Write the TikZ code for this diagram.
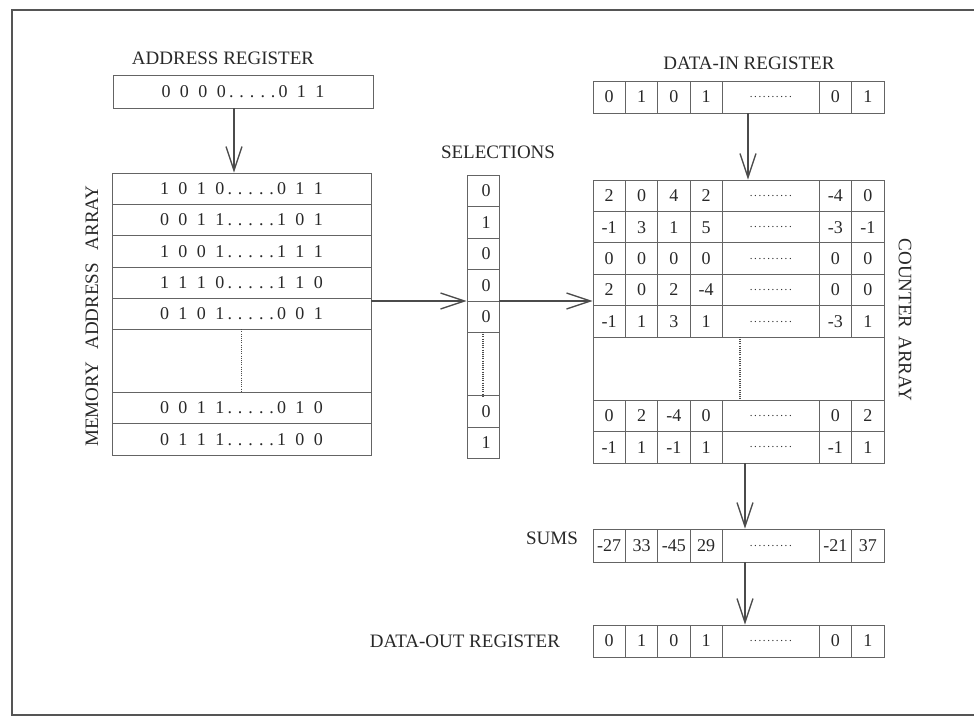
\documentclass[tikz,border=0pt]{standalone}
\usepackage{fontspec}
\setmainfont{Liberation Serif}
\usetikzlibrary{arrows.meta,calc}
\definecolor{linec}{RGB}{100,100,100}
\definecolor{txtc}{RGB}{40,40,40}
\definecolor{arrc}{RGB}{75,75,75}
\definecolor{framec}{RGB}{85,85,85}
\newcommand\cellfont{\fontsize{18}{20}\selectfont}
\newcommand\labfont{\fontsize{19}{21}\selectfont}
\newcommand\bgap{\hspace{9.5pt}}
\newcommand\dgap{\hspace{6pt}}
\newcommand\bitrow[7]{#1\bgap#2\bgap#3\bgap#4\hspace{3pt}.\dgap.\dgap.\dgap.\dgap.\hspace{3pt}#5\bgap#6\bgap#7}
\newcommand\dts{{\fontsize{11}{11}\selectfont .\kern1.6pt.\kern1.6pt.\kern1.6pt.\kern1.6pt.\kern1.6pt.\kern1.6pt.\kern1.6pt.\kern1.6pt.\kern1.6pt.}}
\tikzset{
  cell/.style={draw=linec, line width=0.9pt, inner sep=0pt, font=\cellfont, text=txtc},
  lab/.style={font=\labfont, text=txtc, inner sep=0pt},
  arr/.style={draw=arrc, line width=1.3pt, -{Straight Barb[length=24pt,width=16pt]}},
  dotl/.style={draw=arrc, line width=1.6pt, dash pattern=on 1pt off 1.2pt},
}
% #1 prefix, #2 y centre, #3 seven values, #4 height
\newcommand\regrow[4]{%
  \foreach \v [count=\i] in {#3}{%
    \ifnum\i<5 \pgfmathsetmacro\cx{593+(\i-0.5)*32.33}\def\cw{32.33}%
    \else\ifnum\i=5 \def\cx{770.83}\def\cw{97}%
    \else\pgfmathsetmacro\cx{593+(\i+1.5)*32.33}\def\cw{32.33}\fi\fi
    \node[cell, minimum width=\cw pt, minimum height=#4pt] (#1-\i) at (\cx,#2) {\v};
  }}
\begin{document}
\begin{tikzpicture}[x=1pt,y=-1pt]
\useasboundingbox (0,0) rectangle (974,721);
\draw[framec, line width=1.6pt] (12,10) rectangle (995,715);

% ---------- address register and memory array ----------
\node[lab] (addrlab) at (223,58) {ADDRESS REGISTER};
\node[cell, minimum width=260pt, minimum height=33pt] (addr) at (243,91.5) {\bitrow{0}{0}{0}{0}{0}{1}{1}\hspace{26pt}};

\node[cell, minimum width=259pt, minimum height=31.33pt] (m1) at (241.5,188.7) {\bitrow{1}{0}{1}{0}{0}{1}{1}\hspace{25pt}};
\node[cell, minimum width=259pt, minimum height=31.33pt] (m2) at (241.5,220.0) {\bitrow{0}{0}{1}{1}{1}{0}{1}\hspace{25pt}};
\node[cell, minimum width=259pt, minimum height=31.33pt] (m3) at (241.5,251.3) {\bitrow{1}{0}{0}{1}{1}{1}{1}\hspace{25pt}};
\node[cell, minimum width=259pt, minimum height=31.33pt] (m4) at (241.5,282.7) {\bitrow{1}{1}{1}{0}{1}{1}{0}\hspace{25pt}};
\node[cell, minimum width=259pt, minimum height=31.33pt] (m5) at (241.5,314.0) {\bitrow{0}{1}{0}{1}{0}{0}{1}\hspace{25pt}};
\node[cell, minimum width=259pt, minimum height=62.67pt] (mgap) at (241.5,361.0) {};
\node[cell, minimum width=259pt, minimum height=31.33pt] (m6) at (241.5,408.0) {\bitrow{0}{0}{1}{1}{0}{1}{0}\hspace{25pt}};
\node[cell, minimum width=259pt, minimum height=31.33pt] (m7) at (241.5,439.3) {\bitrow{0}{1}{1}{1}{1}{0}{0}\hspace{25pt}};
\draw[dotl] (mgap.north) -- (mgap.south);
\node[lab, rotate=90] (memlab) at (92,316) {MEMORY\hspace{8pt} ADDRESS\hspace{8pt} ARRAY};

% ---------- selections ----------
\node[lab] (sellab) at (498,152) {SELECTIONS};
\foreach \v/\y/\n in {0/190.75/s1, 1/222.25/s2, 0/253.75/s3, 0/285.25/s4, 0/316.75/s5, 0/411.25/s6, 1/442.75/s7}{
  \node[cell, minimum width=32pt, minimum height=31.5pt] (\n) at (483,\y) {\hspace{6pt}\v};
}
\node[cell, minimum width=32pt, minimum height=63pt] (sgap) at (483,364) {};
\draw[dotl] (sgap.north) -- (sgap.south);

% ---------- data-in register ----------
\node[lab] (dinlab) at (749,63) {DATA-IN REGISTER};
\regrow{din}{97}{0,1,0,1,\dts,0,1}{32}

% ---------- counter array ----------
\regrow{ca}{195.7}{2,0,4,2,\dts,-4,0}{31.44}
\regrow{cb}{227.2}{-1,3,1,5,\dts,-3,-1}{31.44}
\regrow{cc}{258.6}{0,0,0,0,\dts,0,0}{31.44}
\regrow{cd}{290.0}{2,0,2,-4,\dts,0,0}{31.44}
\regrow{ce}{321.5}{-1,1,3,1,\dts,-3,1}{31.44}
\node[cell, minimum width=291pt, minimum height=62.9pt] (cgap) at (738.5,368.7) {};
\draw[dotl] ([xshift=1.5pt]cgap.north) -- ([xshift=1.5pt]cgap.south);
\regrow{cf}{415.8}{0,2,-4,0,\dts,0,2}{31.44}
\regrow{cg}{447.3}{-1,1,-1,1,\dts,-1,1}{31.44}
\node[lab, rotate=-90] (cntlab) at (905,320) {COUNTER\hspace{3pt} ARRAY};

% ---------- sums and data-out ----------
\node[lab] (sumlab) at (552,538) {SUMS};
\regrow{sum}{545.5}{-27,33,-45,29,\dts,-21,37}{33}
\node[lab] (doutlab) at (465,641) {DATA-OUT REGISTER};
\regrow{dout}{641}{0,1,0,1,\dts,0,1}{32}

% ---------- connectors ----------
\coordinate (ax) at (234,0);
\coordinate (hy) at (0,301);
\coordinate (dx) at (748,0);
\coordinate (sx) at (745,0);
\draw[arr] (addr.south -| ax) -- (m1.north -| ax);
\draw[arr] (m4.east |- hy) -- (s4.west |- hy);
\draw[arr] (s4.east |- hy) -- (cd-1.west |- hy);
\draw[arr] (din-5.south -| dx) -- (ca-5.north -| dx);
\draw[arr] (cg-5.south -| sx) -- (sum-5.north -| sx);
\draw[arr] (sum-5.south -| sx) -- (dout-5.north -| sx);
\end{tikzpicture}
\end{document}
